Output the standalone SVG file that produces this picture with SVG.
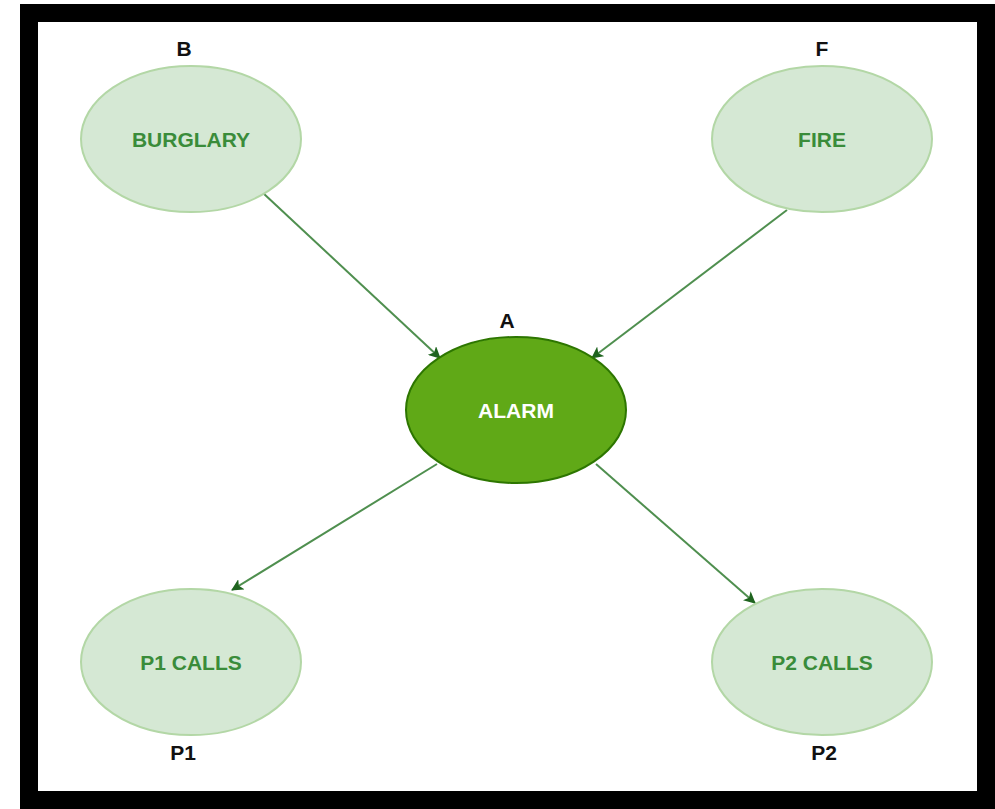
<svg xmlns="http://www.w3.org/2000/svg" width="995" height="809" viewBox="0 0 995 809">
<style>
.node-light{fill:#d5e8d4;stroke:#b3d7a6;stroke-width:2}
.node-dark{fill:#60a917;stroke:#2d7600;stroke-width:2}
.t-light{font-family:"Liberation Sans",Arial,sans-serif;font-weight:bold;font-size:21px;fill:#3a8c3a;text-anchor:middle}
.t-dark{font-family:"Liberation Sans",Arial,sans-serif;font-weight:bold;font-size:21px;fill:#ffffff;text-anchor:middle}
.lbl{font-family:"Liberation Sans",Arial,sans-serif;font-weight:bold;font-size:21px;fill:#111111;text-anchor:middle}
.edge{stroke:#4f8f4f;stroke-width:2;fill:none;marker-end:url(#arr)}
</style>
<defs>
<marker id="arr" markerWidth="12" markerHeight="12" refX="11" refY="6" orient="auto" markerUnits="userSpaceOnUse">
<path d="M0,0 L12,6 L0,12 L3,6 Z" fill="#1f641f"/>
</marker>
</defs>
<rect x="0" y="0" width="995" height="809" fill="#ffffff"/>
<rect x="20" y="4" width="975" height="805" fill="#000000"/>
<rect x="38" y="22" width="939" height="769" fill="#ffffff"/>
<g id="connectors">
<line class="edge" x1="263" y1="193" x2="440" y2="358"/>
<line class="edge" x1="787" y1="210" x2="592" y2="358"/>
<line class="edge" x1="437" y1="464" x2="232" y2="590"/>
<line class="edge" x1="596" y1="464" x2="755" y2="603"/>
</g>
<g id="burglary">
<ellipse class="node-light" cx="191" cy="139" rx="110" ry="73"/>
<text class="t-light" x="191" y="147">BURGLARY</text>
<text class="lbl" x="184" y="56">B</text>
</g>
<g id="fire">
<ellipse class="node-light" cx="822" cy="139" rx="110" ry="73"/>
<text class="t-light" x="822" y="147">FIRE</text>
<text class="lbl" x="822" y="56">F</text>
</g>
<g id="alarm">
<ellipse class="node-dark" cx="516" cy="410" rx="110" ry="73"/>
<text class="t-dark" x="516" y="418">ALARM</text>
<text class="lbl" x="507" y="328">A</text>
</g>
<g id="p1calls">
<ellipse class="node-light" cx="191" cy="662" rx="110" ry="73"/>
<text class="t-light" x="191" y="670">P1 CALLS</text>
<text class="lbl" x="183" y="760">P1</text>
</g>
<g id="p2calls">
<ellipse class="node-light" cx="822" cy="662" rx="110" ry="73"/>
<text class="t-light" x="822" y="670">P2 CALLS</text>
<text class="lbl" x="824" y="760">P2</text>
</g>
</svg>
